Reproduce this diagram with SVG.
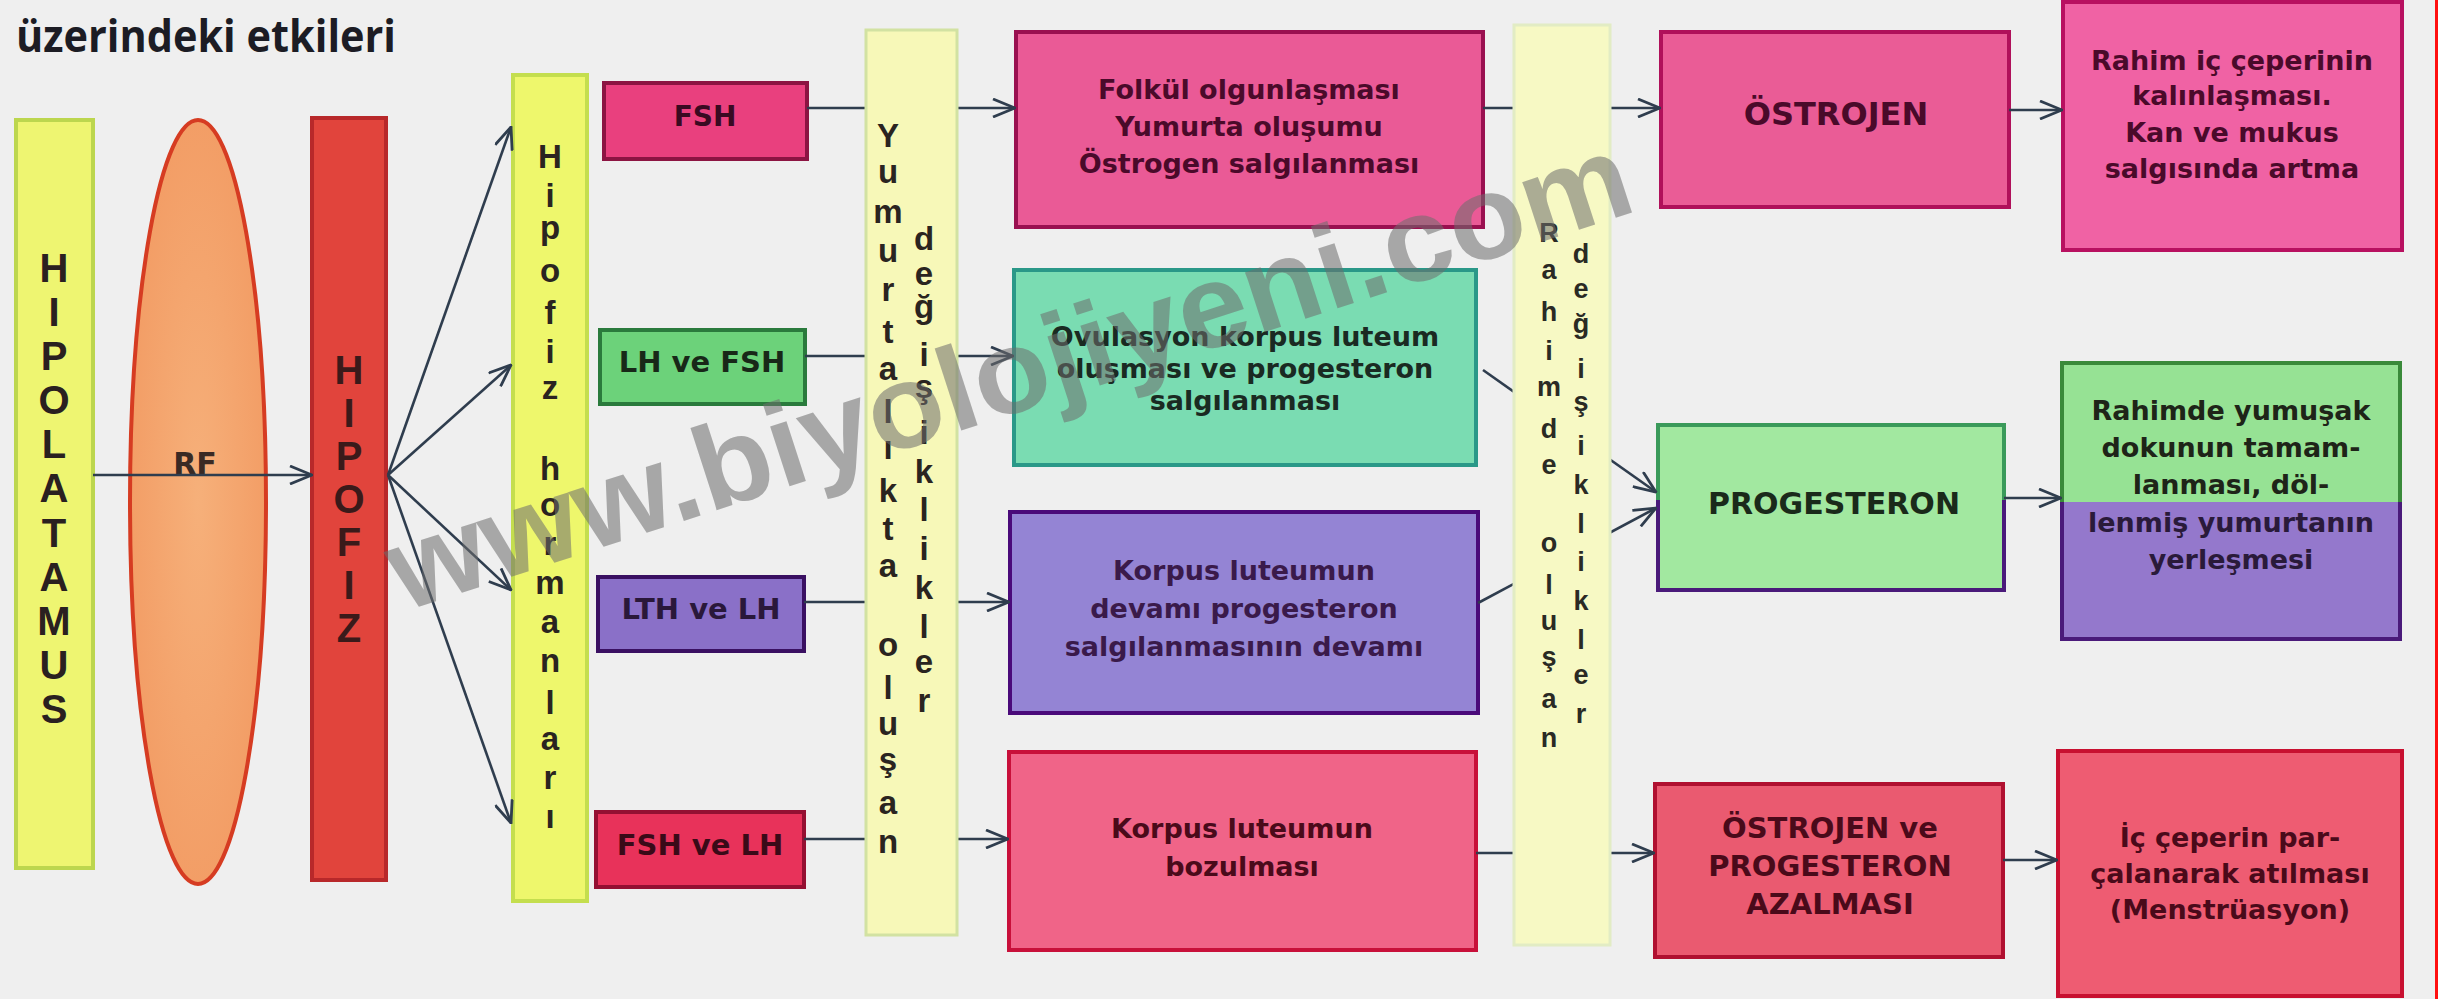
<svg xmlns="http://www.w3.org/2000/svg" width="2438" height="999" viewBox="0 0 2438 999">
<defs>
<style>
.bg{fill:#efefef}
.title{font-family:"Open Sans","DejaVu Sans",sans-serif;font-weight:700;font-size:44px;fill:#1c1c24}
.lbl{font-family:"DejaVu Sans","Liberation Sans",sans-serif;font-weight:700;font-size:27px;text-anchor:middle}
.cap{font-family:"DejaVu Sans","Liberation Sans",sans-serif;font-weight:700;font-size:29px;text-anchor:middle}
.vbig{font-family:"Liberation Sans",Arial,sans-serif;font-weight:700;font-size:40px;text-anchor:middle;fill:#2a2020}
.vmid{font-family:"Liberation Sans",Arial,sans-serif;font-weight:700;font-size:33px;text-anchor:middle;fill:#2a2420}
.vsm{font-family:"Liberation Sans",Arial,sans-serif;font-weight:700;font-size:27px;text-anchor:middle;fill:#2a2a24}
.conn{stroke:#2f3d4e;stroke-width:2.6;fill:none}
.box{stroke-width:4}
.wm{font-family:"Liberation Sans",Arial,sans-serif;font-weight:700;font-size:119px;fill:#6e6e6e;opacity:0.55}
</style>
<marker id="arr" viewBox="0 0 24 20" refX="23" refY="10" markerWidth="24" markerHeight="20" markerUnits="userSpaceOnUse" orient="auto">
<path d="M1,1 L23,10 L1,19" fill="none" stroke="#2f3d4e" stroke-width="2.8"/>
</marker>
<radialGradient id="gEll" cx="0.5" cy="0.5" r="0.6">
<stop offset="0" stop-color="#f6b07a"/>
<stop offset="1" stop-color="#f29a62"/>
</radialGradient>
</defs>
<rect class="bg" x="0" y="0" width="2438" height="999"/>
<text class="title" x="16" y="52" textLength="380" lengthAdjust="spacingAndGlyphs">üzerindeki etkileri</text>

<g id="hipolatamus">
<rect x="16" y="120" width="77" height="748" fill="#eef571" stroke="#bcd64e" stroke-width="4"/>
<text class="vbig"><tspan x="54" y="282">H</tspan><tspan x="54" y="326">I</tspan><tspan x="54" y="370">P</tspan><tspan x="54" y="414">O</tspan><tspan x="54" y="458">L</tspan><tspan x="54" y="502">A</tspan><tspan x="54" y="547">T</tspan><tspan x="54" y="591">A</tspan><tspan x="54" y="635">M</tspan><tspan x="54" y="679">U</tspan><tspan x="54" y="723">S</tspan></text>
</g>

<g id="rf">
<ellipse cx="198" cy="502" rx="68" ry="382" fill="url(#gEll)" stroke="#d63c22" stroke-width="4"/>
<text class="cap" x="195" y="474" style="font-size:30px;fill:#3a2a24">RF</text>
</g>

<g id="hipofiz">
<rect x="312" y="118" width="74" height="762" fill="#e1443c" stroke="#b8282a" stroke-width="4"/>
<text class="vbig" style="fill:#3a1a1a"><tspan x="349" y="384">H</tspan><tspan x="349" y="427">I</tspan><tspan x="349" y="470">P</tspan><tspan x="349" y="513">O</tspan><tspan x="349" y="556">F</tspan><tspan x="349" y="599">I</tspan><tspan x="349" y="642">Z</tspan></text>
</g>

<g id="hipofiz-hormonlari">
<rect x="513" y="75" width="74" height="826" fill="#eef76c" stroke="#c4de4e" stroke-width="4"/>
<text class="vmid"><tspan x="550" y="168">H</tspan><tspan x="550" y="207">i</tspan><tspan x="550" y="239">p</tspan><tspan x="550" y="282">o</tspan><tspan x="550" y="324">f</tspan><tspan x="550" y="363">i</tspan><tspan x="550" y="399">z</tspan><tspan x="550" y="480">h</tspan><tspan x="550" y="516">o</tspan><tspan x="550" y="555">r</tspan><tspan x="550" y="594">m</tspan><tspan x="550" y="633">a</tspan><tspan x="550" y="672">n</tspan><tspan x="550" y="714">l</tspan><tspan x="550" y="750">a</tspan><tspan x="550" y="789">r</tspan><tspan x="550" y="828">ı</tspan></text>
</g>

<g id="fsh">
<rect class="box" x="604" y="83" width="203" height="76" fill="#e9407e" stroke="#8c1442"/>
<text class="cap" x="705" y="126" style="fill:#3a0a22;font-size:28px">FSH</text>
</g>
<g id="lh-fsh">
<rect class="box" x="600" y="330" width="205" height="74" fill="#6cd27a" stroke="#2a7a3c"/>
<text class="cap" x="702" y="372" style="fill:#182818">LH ve FSH</text>
</g>
<g id="lth-lh">
<rect class="box" x="598" y="577" width="206" height="74" fill="#8a70c8" stroke="#3a1062"/>
<text class="cap" x="701" y="619" style="fill:#2a183a">LTH ve LH</text>
</g>
<g id="fsh-lh">
<rect class="box" x="596" y="812" width="208" height="75" fill="#e8325a" stroke="#941032"/>
<text class="cap" x="700" y="855" style="fill:#3a0a18">FSH ve LH</text>
</g>

<g id="folikul">
<rect class="box" x="1016" y="32" width="467" height="195" fill="#ea5a96" stroke="#9a1050"/>
<text class="lbl" style="fill:#4a0a2a"><tspan x="1249" y="99">Folkül olgunlaşması</tspan><tspan x="1249" y="136">Yumurta oluşumu</tspan><tspan x="1249" y="173">Östrogen salgılanması</tspan></text>
</g>
<g id="ovulasyon">
<rect class="box" x="1014" y="270" width="462" height="195" fill="#7adcb2" stroke="#2a9888"/>
<text class="lbl" style="fill:#1a2a22"><tspan x="1245" y="346">Ovulasyon korpus luteum</tspan><tspan x="1245" y="378">oluşması ve progesteron</tspan><tspan x="1245" y="410">salgılanması</tspan></text>
</g>
<g id="korpus-devami">
<rect class="box" x="1010" y="512" width="468" height="201" fill="#9484d4" stroke="#4a0a7a"/>
<text class="lbl" style="fill:#3a1a4a"><tspan x="1244" y="580">Korpus luteumun</tspan><tspan x="1244" y="618">devamı progesteron</tspan><tspan x="1244" y="656">salgılanmasının devamı</tspan></text>
</g>
<g id="korpus-bozulmasi">
<rect class="box" x="1009" y="752" width="467" height="198" fill="#f06488" stroke="#c8103a"/>
<text class="lbl" style="fill:#4a0a1a"><tspan x="1242" y="838">Korpus luteumun</tspan><tspan x="1242" y="876">bozulması</tspan></text>
</g>

<g id="ostrojen">
<rect class="box" x="1661" y="32" width="348" height="175" fill="#ea5c96" stroke="#b0105a"/>
<text class="cap" x="1836" y="125" style="fill:#4a0a2a;font-size:32px">ÖSTROJEN</text>
</g>
<g id="progesteron">
<rect x="1658" y="425" width="346" height="165" fill="#a2e8a0"/>
<path d="M1658,500 L1658,425 L2004,425 L2004,500" fill="none" stroke="#3a9a5a" stroke-width="4"/>
<path d="M1658,500 L1658,590 L2004,590 L2004,500" fill="none" stroke="#4a1a7a" stroke-width="4"/>
<text class="cap" x="1834" y="514" style="fill:#1a2a1a;font-size:30px">PROGESTERON</text>
</g>
<g id="azalma">
<rect class="box" x="1655" y="784" width="348" height="173" fill="#ea5a70" stroke="#b01030"/>
<text class="cap" style="fill:#4a0a1a"><tspan x="1830" y="838">ÖSTROJEN ve</tspan><tspan x="1830" y="876">PROGESTERON</tspan><tspan x="1830" y="914">AZALMASI</tspan></text>
</g>

<g id="rahim-kalinlasma">
<rect class="box" x="2063" y="2" width="339" height="248" fill="#f062a4" stroke="#b81060"/>
<text class="lbl" style="fill:#4a0a2a"><tspan x="2232" y="70">Rahim iç çeperinin</tspan><tspan x="2232" y="105">kalınlaşması.</tspan><tspan x="2232" y="142">Kan ve mukus</tspan><tspan x="2232" y="178">salgısında artma</tspan></text>
</g>
<g id="rahim-yumusak">
<rect x="2062" y="363" width="338" height="139" fill="#96e294"/>
<rect x="2062" y="502" width="338" height="137" fill="#9478cc"/>
<path d="M2062,502 L2062,363 L2400,363 L2400,502" fill="none" stroke="#3a8a3a" stroke-width="4"/>
<path d="M2062,502 L2062,639 L2400,639 L2400,502" fill="none" stroke="#4a1a7a" stroke-width="4"/>
<text class="lbl" style="fill:#1e2418"><tspan x="2231" y="420">Rahimde yumuşak</tspan><tspan x="2231" y="457">dokunun tamam-</tspan><tspan x="2231" y="494">lanması, döl-</tspan><tspan x="2231" y="532" style="fill:#2a1a3a">lenmiş yumurtanın</tspan><tspan x="2231" y="569" style="fill:#2a1a3a">yerleşmesi</tspan></text>
</g>
<g id="menstruasyon">
<rect class="box" x="2058" y="751" width="344" height="245" fill="#ee5c72" stroke="#c81030"/>
<text class="lbl" style="fill:#4a0a1a"><tspan x="2230" y="847">İç çeperin par-</tspan><tspan x="2230" y="883">çalanarak atılması</tspan><tspan x="2230" y="919">(Menstrüasyon)</tspan></text>
</g>

<g id="connectors">
<line class="conn" x1="93" y1="475" x2="312" y2="475" marker-end="url(#arr)"/>
<line class="conn" x1="388" y1="475" x2="511" y2="127" marker-end="url(#arr)"/>
<line class="conn" x1="388" y1="475" x2="511" y2="365" marker-end="url(#arr)"/>
<line class="conn" x1="388" y1="475" x2="511" y2="590" marker-end="url(#arr)"/>
<line class="conn" x1="388" y1="475" x2="511" y2="823" marker-end="url(#arr)"/>
<line class="conn" x1="807" y1="108" x2="1015" y2="108" marker-end="url(#arr)"/>
<line class="conn" x1="805" y1="356" x2="1013" y2="356" marker-end="url(#arr)"/>
<line class="conn" x1="804" y1="602" x2="1009" y2="602" marker-end="url(#arr)"/>
<line class="conn" x1="804" y1="839" x2="1008" y2="839" marker-end="url(#arr)"/>
<line class="conn" x1="1483" y1="108" x2="1660" y2="108" marker-end="url(#arr)"/>
<line class="conn" x1="1483" y1="370" x2="1656" y2="492" marker-end="url(#arr)"/>
<line class="conn" x1="1478" y1="603" x2="1656" y2="508" marker-end="url(#arr)"/>
<line class="conn" x1="1476" y1="853" x2="1654" y2="853" marker-end="url(#arr)"/>
<line class="conn" x1="2009" y1="110" x2="2062" y2="110" marker-end="url(#arr)"/>
<line class="conn" x1="2004" y1="498" x2="2061" y2="498" marker-end="url(#arr)"/>
<line class="conn" x1="2003" y1="860" x2="2057" y2="860" marker-end="url(#arr)"/>
</g>

<g id="yumurtalikta">
<rect x="866" y="30" width="91" height="905" fill="#f7f8b8" stroke="#d2e2a2" stroke-width="3"/>
<text class="vmid"><tspan x="888" y="147">Y</tspan><tspan x="888" y="183">u</tspan><tspan x="888" y="223">m</tspan><tspan x="888" y="262">u</tspan><tspan x="888" y="301">r</tspan><tspan x="888" y="343">t</tspan><tspan x="888" y="380">a</tspan><tspan x="888" y="423">l</tspan><tspan x="888" y="459">ı</tspan><tspan x="888" y="502">k</tspan><tspan x="888" y="540">t</tspan><tspan x="888" y="577">a</tspan><tspan x="888" y="656">o</tspan><tspan x="888" y="699">l</tspan><tspan x="888" y="735">u</tspan><tspan x="888" y="771">ş</tspan><tspan x="888" y="814">a</tspan><tspan x="888" y="853">n</tspan></text>
<text class="vmid"><tspan x="924" y="250">d</tspan><tspan x="924" y="285">e</tspan><tspan x="924" y="318">ğ</tspan><tspan x="924" y="366">i</tspan><tspan x="924" y="398">ş</tspan><tspan x="924" y="444">i</tspan><tspan x="924" y="483">k</tspan><tspan x="924" y="521">l</tspan><tspan x="924" y="560">i</tspan><tspan x="924" y="599">k</tspan><tspan x="924" y="638">l</tspan><tspan x="924" y="673">e</tspan><tspan x="924" y="712">r</tspan></text>
</g>

<g id="rahimde">
<rect x="1514" y="25" width="96" height="920" fill="#f7f9c4" stroke="#e2ecc4" stroke-width="3"/>
<text class="vsm"><tspan x="1549" y="242">R</tspan><tspan x="1549" y="279">a</tspan><tspan x="1549" y="321">h</tspan><tspan x="1549" y="360">i</tspan><tspan x="1549" y="396">m</tspan><tspan x="1549" y="438">d</tspan><tspan x="1549" y="474">e</tspan><tspan x="1549" y="552">o</tspan><tspan x="1549" y="594">l</tspan><tspan x="1549" y="630">u</tspan><tspan x="1549" y="666">ş</tspan><tspan x="1549" y="708">a</tspan><tspan x="1549" y="747">n</tspan></text>
<text class="vsm"><tspan x="1581" y="263">d</tspan><tspan x="1581" y="298">e</tspan><tspan x="1581" y="333">ğ</tspan><tspan x="1581" y="378">i</tspan><tspan x="1581" y="411">ş</tspan><tspan x="1581" y="455">i</tspan><tspan x="1581" y="494">k</tspan><tspan x="1581" y="533">l</tspan><tspan x="1581" y="571">i</tspan><tspan x="1581" y="610">k</tspan><tspan x="1581" y="649">l</tspan><tspan x="1581" y="684">e</tspan><tspan x="1581" y="723">r</tspan></text>
</g>

<g id="watermark">
<text class="wm" x="403" y="612" transform="rotate(-18 403 612)" textLength="1300" lengthAdjust="spacingAndGlyphs">www.biyolojiyeni.com</text>
</g>
<line x1="2436.5" y1="0" x2="2436.5" y2="999" stroke="#ff1010" stroke-width="3"/>
</svg>
